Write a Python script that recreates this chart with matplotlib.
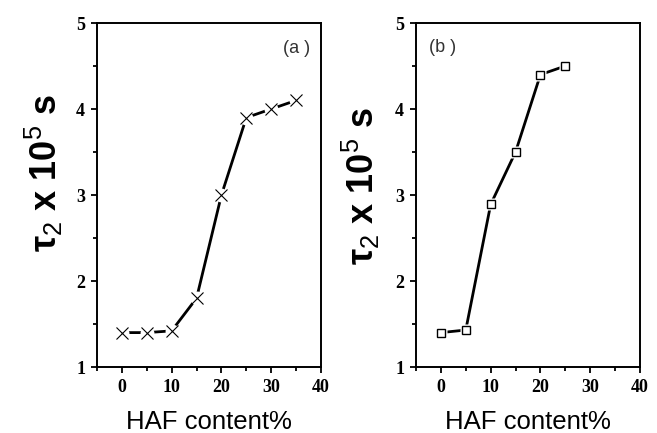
import matplotlib
matplotlib.use("Agg")
import matplotlib.pyplot as plt
from matplotlib.ticker import MultipleLocator

# Data
haf_a = [0, 5, 10, 15, 20, 25, 30, 35]
tau_a = [1.40, 1.40, 1.42, 1.80, 3.00, 3.90, 4.00, 4.10]
haf_b = [0, 5, 10, 15, 20, 25]
tau_b = [1.40, 1.43, 2.89, 3.50, 4.40, 4.50]
x_ticks = [0, 10, 20, 30, 40]
y_ticks = [1, 2, 3, 4, 5]
panel_labels = ["(a )", "(b )"]
ylabel_text = "τ$_\\mathrm{2}$ x 10$^\\mathrm{5}$ s"
xlabel_text = "HAF content%"

plt.rcParams['mathtext.fontset'] = 'custom'
plt.rcParams['mathtext.rm'] = 'Liberation Sans'
plt.rcParams['mathtext.it'] = 'Liberation Sans:italic'
plt.rcParams['mathtext.bf'] = 'Liberation Sans:bold'

fig = plt.figure(figsize=(6.57, 4.33), dpi=100)
W, H = 657, 433
ax_a = fig.add_axes([97 / W, 1 - 367 / H, 224 / W, 344 / H])
ax_b = fig.add_axes([416 / W, 1 - 367 / H, 224 / W, 344 / H])

def style(ax):
    ax.set_xlim(-5, 40)
    ax.set_ylim(1, 5)
    ax.set_xticks(x_ticks)
    ax.set_yticks(y_ticks)
    ax.xaxis.set_minor_locator(MultipleLocator(5))
    ax.yaxis.set_minor_locator(MultipleLocator(0.5))
    ax.tick_params(which='major', direction='out', length=4.5, width=1.3,
                   top=False, right=False, pad=4)
    ax.tick_params(which='minor', direction='out', length=3, width=1.3,
                   top=False, right=False)
    for lab in ax.get_xticklabels() + ax.get_yticklabels():
        lab.set_fontfamily('Liberation Serif')
        lab.set_fontweight('bold')
        lab.set_fontsize(13)
    for sp in ax.spines.values():
        sp.set_linewidth(1.4)
    ax.set_xlabel(xlabel_text, fontsize=18.5, family='Liberation Sans', labelpad=10)
    ax.set_ylabel(ylabel_text, fontsize=26, family='Liberation Sans', fontweight='bold')

style(ax_a)
style(ax_b)

# Panel (a)
ax_a.plot(haf_a, tau_a, color='black', lw=2.0, zorder=2)
ax_a.plot(haf_a, tau_a, linestyle='none', marker='o', ms=10, mfc='white', mec='none', zorder=3)
ax_a.plot(haf_a, tau_a, linestyle='none', marker='x', ms=8.5, mew=0.8, color='black', zorder=4)

# Panel (b)
ax_b.plot(haf_b, tau_b, color='black', lw=2.0, zorder=2)
ax_b.plot(haf_b, tau_b, linestyle='none', marker='s', ms=9, mfc='white', mec='none', zorder=3)
ax_b.plot(haf_b, tau_b, linestyle='none', marker='s', ms=6, mew=1.0, mfc='white', mec='black', zorder=4)

ax_a.text(0.89, 0.927, panel_labels[0], transform=ax_a.transAxes, ha='center', va='center',
          fontsize=13, family='Liberation Sans', color='#333333')
ax_b.text(0.12, 0.93, panel_labels[1], transform=ax_b.transAxes, ha='center', va='center',
          fontsize=13, family='Liberation Sans', color='#333333')

for ax, (lx, ly) in [(ax_a, (-0.143, 0.564)), (ax_b, (-0.152, 0.526))]:
    lab = ax.yaxis.label
    lab.set_rotation_mode('default')
    lab.set_ha('right')
    lab.set_va('center')
    ax.yaxis.set_label_coords(lx, ly)

fig.savefig("out.png", dpi=100)
